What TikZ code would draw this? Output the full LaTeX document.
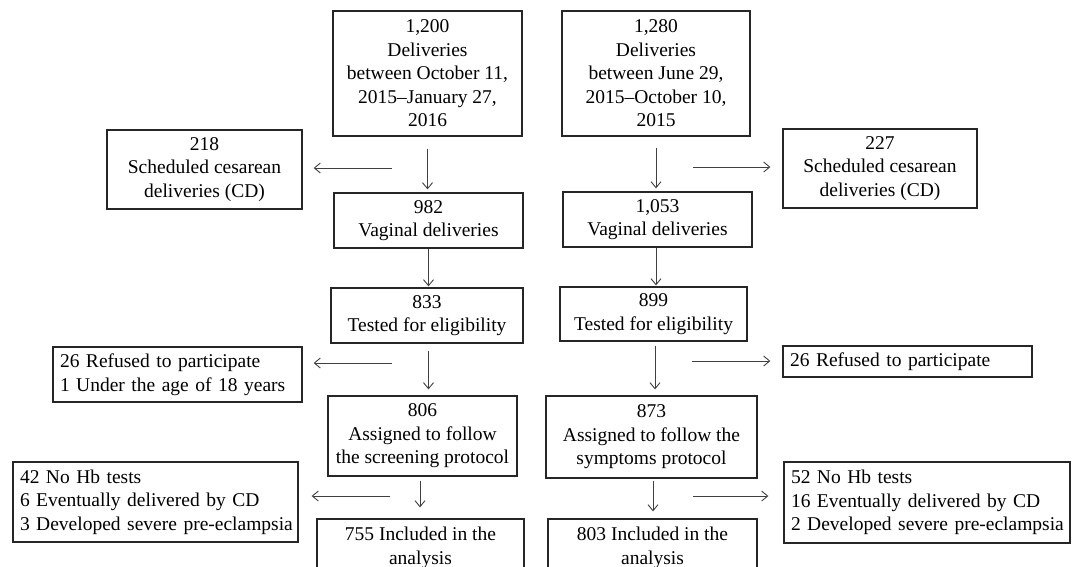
\documentclass[tikz,border=0pt]{standalone}
\usepackage{fontspec}
\setmainfont{Liberation Serif}
\usetikzlibrary{arrows.meta}
\newcommand\diagfont{\fontsize{19.5}{23.5}\selectfont}
\begin{document}
\begin{tikzpicture}[x=1pt,y=-1pt,
  box/.style={draw=black!85, line width=1.3pt, inner sep=0pt, align=center, font=\diagfont},
  lbox/.style={draw=black!85, line width=1.3pt, inner xsep=7pt, inner ysep=0pt, align=left, font=\diagfont},
  arr/.style={draw=black!75, line width=0.9pt, -{Straight Barb[length=6pt,width=10pt]}}]
\useasboundingbox (0,0) rectangle (1072,566);
\clip (0,0) rectangle (1072,566);
% main column left
\node[box, minimum width=189pt, minimum height=125pt] (A) at (427.5,73.5)
  {1,200\\Deliveries\\between October 11,\\2015--January 27,\\2016};
\node[box, minimum width=189pt, minimum height=55pt] (E) at (428.5,220.5)
  {982\\Vaginal deliveries};
\node[box, minimum width=192pt, minimum height=55pt] (G) at (427,315.5)
  {833\\Tested for eligibility};
\node[box, minimum width=189pt, minimum height=80pt] (K) at (422.5,436)
  {806\\Assigned to follow\\the screening protocol};
\node[box, minimum width=207pt, minimum height=58pt] (O) at (420.5,548)
  {755 Included in the\\analysis};
% main column right
\node[box, minimum width=188pt, minimum height=125pt] (B) at (656,73.5)
  {1,280\\Deliveries\\between June 29,\\2015--October 10,\\2015};
\node[box, minimum width=189pt, minimum height=55pt] (F) at (657.5,219.5)
  {1,053\\Vaginal deliveries};
\node[box, minimum width=187pt, minimum height=54pt] (H) at (653.5,314)
  {899\\Tested for eligibility};
\node[box, minimum width=211pt, minimum height=82pt] (L) at (651.5,437)
  {873\\Assigned to follow the\\symptoms protocol};
\node[box, minimum width=209pt, minimum height=58pt] (P) at (652.5,548)
  {803 Included in the\\analysis};
% side boxes
\node[box, minimum width=195pt, minimum height=79pt] (C) at (204.5,169.5)
  {218\\Scheduled cesarean\\deliveries (CD)};
\node[box, minimum width=194pt, minimum height=79pt] (D) at (880,168.5)
  {227\\Scheduled cesarean\\deliveries (CD)};
\node[lbox, text width=235pt, minimum height=55pt] (I) at (177.5,374.5)
  {\mbox{26 Refused to participate}\\\mbox{1 Under the age of 18 years}};
\node[lbox, text width=235pt, minimum height=31pt] (J) at (907.5,361.5)
  {\mbox{26 Refused to participate}};
\node[lbox, text width=271pt, minimum height=80pt] (M) at (155.5,502)
  {\mbox{42 No Hb tests}\\\mbox{6 Eventually delivered by CD}\\\mbox{3 Developed severe pre-eclampsia}};
\node[lbox, text width=272pt, minimum height=81pt] (N) at (927,502.5)
  {\mbox{52 No Hb tests}\\\mbox{16 Eventually delivered by CD}\\\mbox{2 Developed severe pre-eclampsia}};
% vertical arrows
\draw[arr, shorten <=12pt, shorten >=3pt] (A.south) -- (A.south |- E.north);
\draw[arr, shorten <=11pt, shorten >=3pt] (B.south) -- (B.south |- F.north);
\draw[arr, shorten >=1pt] (E.south) -- (E.south |- G.north);
\draw[arr, shorten >=1pt] (F.south -| B.south) -- (B.south |- H.north);
\draw[arr, shorten <=7pt, shorten >=6pt] (E.south |- G.south) -- (E.south |- K.north);
\draw[arr, shorten <=4pt, shorten >=6pt] (655,0 |- H.south) -- (655,0 |- L.north);
\draw[arr, shorten <=4pt, shorten >=11pt] (420,0 |- K.south) -- (420,0 |- O.north);
\draw[arr, shorten <=2pt, shorten >=7pt] (653,0 |- L.south) -- (653,0 |- P.north);
% horizontal arrows
\coordinate (hc1) at (392,168);
\coordinate (hc2) at (693,167);
\coordinate (hr1) at (392,363);
\coordinate (hr2) at (692,361);
\coordinate (hm1) at (390,496);
\coordinate (hn2) at (693,496);
\draw[arr, shorten >=11pt] (hc1) -- (hc1 -| C.east);
\draw[arr, shorten >=12pt] (hc2) -- (hc2 -| D.west);
\draw[arr, shorten >=11pt] (hr1) -- (hr1 -| I.east);
\draw[arr, shorten >=12pt] (hr2) -- (hr2 -| J.west);
\draw[arr, shorten >=13pt] (hm1) -- (hm1 -| M.east);
\draw[arr, shorten >=15pt] (hn2) -- (hn2 -| N.west);
\end{tikzpicture}
\end{document}
